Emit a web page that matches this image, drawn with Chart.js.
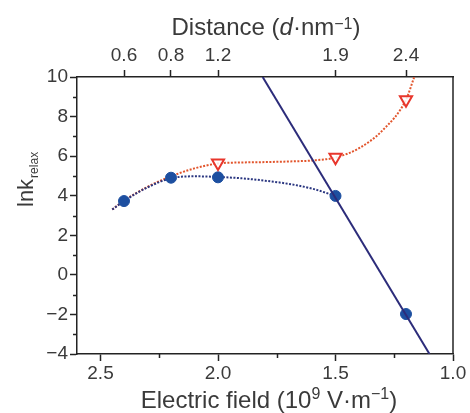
<!DOCTYPE html>
<html>
<head>
<meta charset="utf-8">
<script src="https://cdn.jsdelivr.net/npm/chart.js@4/dist/chart.umd.min.js"></script>
<style>
  html, body { margin: 0; padding: 0; background: #ffffff; }
  #wrap { width: 470px; height: 413px; position: relative; }
</style>
</head>
<body>
<div id="wrap"><canvas id="c" width="470" height="413"></canvas></div>
<script>
// ---- Data ----
const circleField = [2.4, 2.2, 2.0, 1.5, 1.2];
const circleLnk   = [3.73, 4.91, 4.93, 3.99, -1.98];

const triField = [2.0, 1.5, 1.2];
const triLnk   = [5.65, 5.95, 8.85];

const linField = [1.81, 1.10];
const linLnk   = [10, -4];

const blueFitField = [2.45, 2.4, 2.3, 2.2, 2.1, 2.0, 1.9, 1.8, 1.7, 1.6, 1.5];
const blueFitLnk   = [3.30, 3.73, 4.42, 4.88, 4.98, 4.95, 4.88, 4.76, 4.60, 4.36, 3.99];

const redFitField = [2.45, 2.4, 2.3, 2.2, 2.1, 2.0, 1.9, 1.8, 1.7, 1.6, 1.5, 1.4, 1.3, 1.2, 1.165];
const redFitLnk   = [3.30, 3.75, 4.45, 4.98, 5.38, 5.63, 5.68, 5.70, 5.73, 5.78, 5.93, 6.40, 7.30, 8.85, 10.0];

const fieldTicks = [2.5, 2.0, 1.5, 1.0];
const fieldMinor = [2.25, 1.75, 1.25];
const lnkTicks   = [-4, -2, 0, 2, 4, 6, 8, 10];
const lnkMinor   = [-3, -1, 1, 3, 5, 7, 9];
const distTickPos    = [2.4, 2.2, 2.0, 1.5, 1.2];
const distTickLabels = ['0.6', '0.8', '1.2', '1.9', '2.4'];

const FIELD_MIN = 1.0, FIELD_MAX = 2.6;
const LNK_MIN = -4, LNK_MAX = 10;

// ---- helpers ----
const pts = (xs, ys) => xs.map((x, i) => ({ x: x, y: ys[i] }));
const FONT = '"Liberation Sans", Arial, sans-serif';
const AXIS = '#232323';
const TXT = '#3a3a3a';

// geometry of the frame
const LEFT = 77, RIGHT = 453, TOP = 77, BOTTOM = 354, W = 470, H = 413;

function richText(ctx, segs, cx, baseline, baseSize) {
  let total = 0;
  const m = segs.map(s => {
    const size = s.size || baseSize;
    const f = (s.italic ? 'italic ' : '') + size + 'px ' + FONT;
    ctx.font = f;
    const w = ctx.measureText(s.t).width;
    total += w;
    return { f, w, s };
  });
  let x = cx - total / 2;
  ctx.textAlign = 'left';
  ctx.textBaseline = 'alphabetic';
  m.forEach(o => {
    ctx.font = o.f;
    ctx.fillText(o.s.t, x, baseline - (o.s.rise || 0));
    x += o.w;
  });
}

const decor = {
  id: 'decor',
  afterDraw(chart) {
    const ctx = chart.ctx;
    const xs = chart.scales.x, ys = chart.scales.y;
    const ca = chart.chartArea;
    ctx.save();
    ctx.strokeStyle = AXIS;
    ctx.lineWidth = 1.5;
    // right frame line
    ctx.beginPath();
    ctx.moveTo(ca.right, ca.top);
    ctx.lineTo(ca.right, ca.bottom);
    ctx.stroke();
    // minor ticks
    ctx.beginPath();
    lnkMinor.forEach(v => {
      const py = Math.round(ys.getPixelForValue(v)) + 0.5;
      ctx.moveTo(ca.left - 4, py);
      ctx.lineTo(ca.left, py);
    });
    fieldMinor.forEach(v => {
      const px = Math.round(xs.getPixelForValue(v)) + 0.5;
      ctx.moveTo(px, ca.bottom);
      ctx.lineTo(px, ca.bottom + 4);
    });
    ctx.stroke();

    // axis titles
    ctx.fillStyle = TXT;
    richText(ctx, [
      { t: 'Distance (' },
      { t: 'd', italic: true },
      { t: '\u00B7nm' },
      { t: '\u22121', size: 16, rise: 6 },
      { t: ')' }
    ], 266, 35, 24);
    richText(ctx, [
      { t: 'Electric field (10' },
      { t: '9', size: 16, rise: 9 },
      { t: ' V\u00B7m' },
      { t: '\u22121', size: 16, rise: 9 },
      { t: ')' }
    ], 269, 408, 24);

    // y title: lnk_relax rotated
    ctx.translate(33, 207);
    ctx.rotate(-Math.PI / 2);
    ctx.font = '22px ' + FONT;
    ctx.textAlign = 'left';
    ctx.textBaseline = 'alphabetic';
    ctx.fillText('lnk', 0, 0);
    const w = ctx.measureText('lnk').width;
    ctx.font = '12px ' + FONT;
    ctx.fillText('relax', w + 1, 5);
    ctx.restore();
  }
};

const tickFont = { family: FONT, size: 19 };

new Chart(document.getElementById('c'), {
  type: 'scatter',
  data: {
    datasets: [
      {
        label: 'fit line',
        type: 'line',
        data: pts(linField, linLnk),
        borderColor: '#2c2c7a',
        borderWidth: 2,
        pointRadius: 0,
        fill: false,
        order: 1
      },
      {
        label: 'red fit',
        type: 'line',
        data: pts(redFitField, redFitLnk),
        borderColor: '#e2552c',
        borderWidth: 2,
        borderDash: [2, 1.5],
        pointRadius: 0,
        tension: 0.4,
        cubicInterpolationMode: 'monotone',
        fill: false,
        order: 4
      },
      {
        label: 'blue fit',
        type: 'line',
        data: pts(blueFitField, blueFitLnk),
        borderColor: '#2a3680',
        borderWidth: 2,
        borderDash: [2, 1.5],
        pointRadius: 0,
        tension: 0.4,
        cubicInterpolationMode: 'monotone',
        fill: false,
        order: 3
      },
      {
        label: 'triangles',
        data: pts(triField, triLnk),
        pointStyle: 'triangle',
        rotation: 180,
        pointRadius: 7,
        pointBackgroundColor: 'rgba(255,255,255,0.85)',
        pointBorderColor: '#e8362c',
        pointBorderWidth: 2,
        order: 0
      },
      {
        label: 'circles',
        data: pts(circleField, circleLnk),
        pointStyle: 'circle',
        pointRadius: 5.5,
        pointBackgroundColor: '#1d4fa0',
        pointBorderColor: '#1d4fa0',
        pointBorderWidth: 1,
        order: 2
      }
    ]
  },
  options: {
    responsive: false,
    animation: false,
    events: [],
    layout: { padding: 0 },
    plugins: { legend: { display: false }, tooltip: { enabled: false }, title: { display: false } },
    scales: {
      x: {
        type: 'linear', position: 'bottom', reverse: true,
        min: FIELD_MIN, max: FIELD_MAX,
        afterBuildTicks: s => { s.ticks = fieldTicks.map(v => ({ value: v })); },
        afterFit: s => { s.height = H - BOTTOM; s.paddingLeft = 0; s.paddingRight = 0; },
        ticks: { font: tickFont, color: TXT, padding: 1, maxRotation: 0, autoSkip: false,
                 callback: v => Number(v).toFixed(1) },
        grid: { display: true, drawOnChartArea: false, drawTicks: true, tickLength: 7, tickWidth: 1.5, tickColor: AXIS },
        border: { display: true, color: AXIS, width: 1.5 }
      },
      x2: {
        type: 'linear', position: 'top', reverse: true,
        min: FIELD_MIN, max: FIELD_MAX,
        afterBuildTicks: s => { s.ticks = distTickPos.map(v => ({ value: v })); },
        afterFit: s => { s.height = TOP; s.paddingLeft = 0; s.paddingRight = 0; },
        ticks: { font: tickFont, color: TXT, padding: 3, maxRotation: 0, autoSkip: false,
                 callback: (v, i) => distTickLabels[i] },
        grid: { display: true, drawOnChartArea: false, drawTicks: true, tickLength: 7, tickWidth: 1.5, tickColor: AXIS },
        border: { display: true, color: AXIS, width: 1.5 }
      },
      y: {
        type: 'linear', position: 'left',
        min: LNK_MIN, max: LNK_MAX,
        afterBuildTicks: s => { s.ticks = lnkTicks.map(v => ({ value: v })); },
        afterFit: s => { s.width = LEFT; s.paddingTop = 0; s.paddingBottom = 0; },
        ticks: { font: tickFont, color: TXT, padding: 2, autoSkip: false,
                 callback: v => (v < 0 ? '\u2212' + Math.abs(v) : String(v)) },
        grid: { display: true, drawOnChartArea: false, drawTicks: true, tickLength: 7, tickWidth: 1.5, tickColor: AXIS },
        border: { display: true, color: AXIS, width: 1.5 }
      },
      y2: {
        type: 'linear', position: 'right',
        min: LNK_MIN, max: LNK_MAX,
        afterFit: s => { s.width = W - RIGHT; s.paddingTop = 0; s.paddingBottom = 0; },
        ticks: { display: false },
        grid: { display: false },
        border: { display: false }
      }
    }
  },
  plugins: [decor]
});
</script>
</body>
</html>
